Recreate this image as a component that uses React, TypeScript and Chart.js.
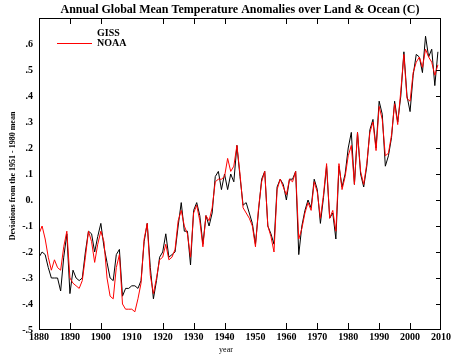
import React, { useEffect, useRef } from "react";
import { Chart, registerables } from "chart.js";

Chart.register(...registerables);

const years = [
  1880, 1881, 1882, 1883, 1884, 1885, 1886, 1887, 1888, 1889,
  1890, 1891, 1892, 1893, 1894, 1895, 1896, 1897, 1898, 1899,
  1900, 1901, 1902, 1903, 1904, 1905, 1906, 1907, 1908, 1909,
  1910, 1911, 1912, 1913, 1914, 1915, 1916, 1917, 1918, 1919,
  1920, 1921, 1922, 1923, 1924, 1925, 1926, 1927, 1928, 1929,
  1930, 1931, 1932, 1933, 1934, 1935, 1936, 1937, 1938, 1939,
  1940, 1941, 1942, 1943, 1944, 1945, 1946, 1947, 1948, 1949,
  1950, 1951, 1952, 1953, 1954, 1955, 1956, 1957, 1958, 1959,
  1960, 1961, 1962, 1963, 1964, 1965, 1966, 1967, 1968, 1969,
  1970, 1971, 1972, 1973, 1974, 1975, 1976, 1977, 1978, 1979,
  1980, 1981, 1982, 1983, 1984, 1985, 1986, 1987, 1988, 1989,
  1990, 1991, 1992, 1993, 1994, 1995, 1996, 1997, 1998, 1999,
  2000, 2001, 2002, 2003, 2004, 2005, 2006, 2007, 2008, 2009,
];

const giss = [
  -0.22, -0.20, -0.21, -0.26, -0.30, -0.30, -0.30, -0.35, -0.22, -0.13,
  -0.36, -0.27, -0.30, -0.31, -0.30, -0.20, -0.12, -0.13, -0.20, -0.14,
  -0.09, -0.18, -0.24, -0.30, -0.31, -0.21, -0.19, -0.37, -0.34, -0.34,
  -0.33, -0.33, -0.34, -0.31, -0.16, -0.09, -0.26, -0.38, -0.31, -0.22,
  -0.20, -0.13, -0.22, -0.21, -0.20, -0.10, -0.01, -0.12, -0.12, -0.25,
  -0.04, -0.01, -0.06, -0.17, -0.06, -0.10, -0.05, 0.09, 0.11, 0.04,
  0.10, 0.04, 0.10, 0.07, 0.21, 0.09, -0.02, -0.01, -0.05, -0.09,
  -0.17, -0.04, 0.08, 0.11, -0.10, -0.13, -0.17, 0.05, 0.08, 0.06,
  0.00, 0.08, 0.08, 0.11, -0.21, -0.10, -0.04, 0.00, -0.03, 0.08,
  0.04, -0.09, 0.01, 0.13, -0.07, -0.05, -0.15, 0.13, 0.05, 0.10,
  0.20, 0.26, 0.06, 0.26, 0.10, 0.05, 0.13, 0.27, 0.31, 0.20,
  0.38, 0.33, 0.13, 0.17, 0.24, 0.38, 0.30, 0.40, 0.57, 0.40,
  0.34, 0.48, 0.56, 0.55, 0.49, 0.63, 0.55, 0.58, 0.44, 0.57,
];

const noaa = [
  -0.13, -0.10, -0.15, -0.22, -0.27, -0.23, -0.26, -0.27, -0.18, -0.12,
  -0.30, -0.32, -0.33, -0.34, -0.31, -0.22, -0.12, -0.16, -0.24, -0.17,
  -0.12, -0.16, -0.30, -0.37, -0.38, -0.26, -0.21, -0.40, -0.42, -0.42,
  -0.42, -0.43, -0.38, -0.32, -0.15, -0.09, -0.29, -0.36, -0.30, -0.23,
  -0.22, -0.17, -0.23, -0.22, -0.19, -0.08, -0.04, -0.10, -0.13, -0.22,
  -0.05, -0.02, -0.08, -0.18, -0.06, -0.08, -0.03, 0.07, 0.08, 0.08,
  0.09, 0.16, 0.11, 0.13, 0.21, 0.10, -0.03, -0.05, -0.07, -0.10,
  -0.18, -0.03, 0.07, 0.11, -0.10, -0.14, -0.20, 0.04, 0.08, 0.05,
  0.02, 0.08, 0.07, 0.11, -0.15, -0.11, -0.05, -0.01, -0.04, 0.07,
  0.03, -0.07, 0.02, 0.14, -0.07, -0.04, -0.12, 0.14, 0.04, 0.09,
  0.17, 0.21, 0.06, 0.26, 0.11, 0.06, 0.14, 0.26, 0.30, 0.19,
  0.36, 0.31, 0.17, 0.18, 0.25, 0.37, 0.29, 0.42, 0.56, 0.39,
  0.38, 0.49, 0.53, 0.55, 0.51, 0.58, 0.55, 0.53, 0.48, 0.52,
];

const titleText = "Annual Global Mean Temperature Anomalies over Land & Ocean (C)";
const yTitle = "Deviations from the 1951 - 1980 mean";
const xTitle = "year";
const xTickValues = [1880, 1890, 1900, 1910, 1920, 1930, 1940, 1950, 1960, 1970, 1980, 1990, 2000, 2010];
const yTickValues = [-0.4, -0.3, -0.2, -0.1, 0, 0.1, 0.2, 0.3, 0.4, 0.5, 0.6];

const SERIF = '"Liberation Serif", "Times New Roman", serif';

const decorPlugin = {
  id: "decor",
  afterDraw(chart: any) {
    const { ctx, chartArea: a, scales } = chart;
    const xs = scales.x;
    const ys = scales.y;
    ctx.save();
    ctx.strokeStyle = "#000";
    ctx.lineWidth = 1;
    // frame
    ctx.strokeRect(a.left + 0.5, a.top + 0.5, a.right - a.left - 1, a.bottom - a.top - 1);
    // top & bottom tick marks (pointing inward)
    const topSkip = [1880, 1910, 1950, 1990, 2010];
    const botSkip = [1880, 1910, 1950, 2010];
    ctx.beginPath();
    xTickValues.forEach((v) => {
      const px = Math.round(xs.getPixelForValue(v)) + 0.5;
      if (!topSkip.includes(v)) {
        ctx.moveTo(px, a.top);
        ctx.lineTo(px, a.top + 6);
      }
      if (!botSkip.includes(v)) {
        ctx.moveTo(px, a.bottom);
        ctx.lineTo(px, a.bottom - 7);
      }
    });
    // right tick marks
    yTickValues.forEach((v) => {
      if (Math.abs(v - 0.3) < 1e-6 || Math.abs(v - 0.6) < 1e-6) return;
      const py = Math.round(ys.getPixelForValue(v)) + 0.5;
      ctx.moveTo(a.right, py);
      ctx.lineTo(a.right - 5, py);
    });
    ctx.stroke();

    ctx.fillStyle = "#000";
    // title
    ctx.font = `bold 12px ${SERIF}`;
    ctx.textAlign = "center";
    ctx.textBaseline = "middle";
    ctx.fillText(titleText, 240, 10);

    // legend (inside plot)
    const ds = chart.data.datasets;
    ctx.font = `bold 10px ${SERIF}`;
    ctx.textAlign = "left";
    ctx.fillText(ds[0].label, 97, 33);
    ctx.fillText(ds[1].label, 97, 43);
    ctx.strokeStyle = ds[1].borderColor;
    ctx.beginPath();
    ctx.moveTo(57, 43.5);
    ctx.lineTo(92, 43.5);
    ctx.stroke();

    // x axis title
    ctx.font = `8px ${SERIF}`;
    ctx.textAlign = "center";
    ctx.fillText(xTitle, 226, 350);

    // y axis title
    ctx.save();
    ctx.translate(13, 176);
    ctx.rotate(-Math.PI / 2);
    ctx.font = `bold 8px ${SERIF}`;
    ctx.textAlign = "center";
    ctx.textBaseline = "middle";
    ctx.fillText(yTitle, 0, 0);
    ctx.restore();

    ctx.restore();
  },
};

function fmtY(v: number): string {
  const r = Math.round(v * 10) / 10;
  if (r > 0.65) return "";
  if (r === 0) return "0.";
  const s = r.toFixed(1);
  return s.replace("0.", ".");
}

export default function App() {
  const ref = useRef<HTMLCanvasElement | null>(null);
  useEffect(() => {
    if (!ref.current) return;
    const chart = new Chart(ref.current, {
      type: "line",
      data: {
        datasets: [
          {
            label: "GISS",
            data: years.map((y, i) => ({ x: y, y: giss[i] })),
            borderColor: "#000000",
            borderWidth: 1,
            pointRadius: 0,
            tension: 0,
            fill: false,
            order: 1,
          },
          {
            label: "NOAA",
            data: years.map((y, i) => ({ x: y, y: noaa[i] })),
            borderColor: "#ff0000",
            borderWidth: 1,
            pointRadius: 0,
            tension: 0,
            fill: false,
            order: 0,
          },
        ],
      },
      options: {
        responsive: false,
        animation: false,
        devicePixelRatio: 1,
        layout: { padding: { top: 18, right: 19, left: 0, bottom: 0 } },
        plugins: {
          legend: { display: false },
          tooltip: { enabled: false },
          title: { display: false },
        },
        scales: {
          x: {
            type: "linear",
            min: 1880,
            max: 2010,
            afterFit: (s: any) => {
              s.height = 30;
            },
            afterBuildTicks: (s: any) => {
              s.ticks = xTickValues.map((v) => ({ value: v }));
            },
            ticks: {
              autoSkip: false,
              maxRotation: 0,
              padding: 1,
              color: "#000",
              font: { family: SERIF, size: 10, weight: "bold" },
              callback: (v: any) => String(v),
            },
            grid: { display: false, drawTicks: false },
            border: { display: false },
          },
          y: {
            type: "linear",
            min: -0.5,
            max: 0.7,
            afterFit: (s: any) => {
              s.width = 39;
            },
            ticks: {
              stepSize: 0.1,
              autoSkip: false,
              padding: 6,
              color: "#000",
              font: { family: SERIF, size: 10, weight: "bold" },
              callback: (v: any) => fmtY(Number(v)),
            },
            grid: { display: false, drawTicks: false },
            border: { display: false },
          },
        },
      },
      plugins: [decorPlugin],
    });
    return () => chart.destroy();
  }, []);
  return (
    <div style={{ position: "absolute", left: 0, top: 0, width: 460, height: 360, background: "#fff" }}>
      <canvas ref={ref} width={460} height={360} style={{ width: 460, height: 360, display: "block" }} />
    </div>
  );
}
